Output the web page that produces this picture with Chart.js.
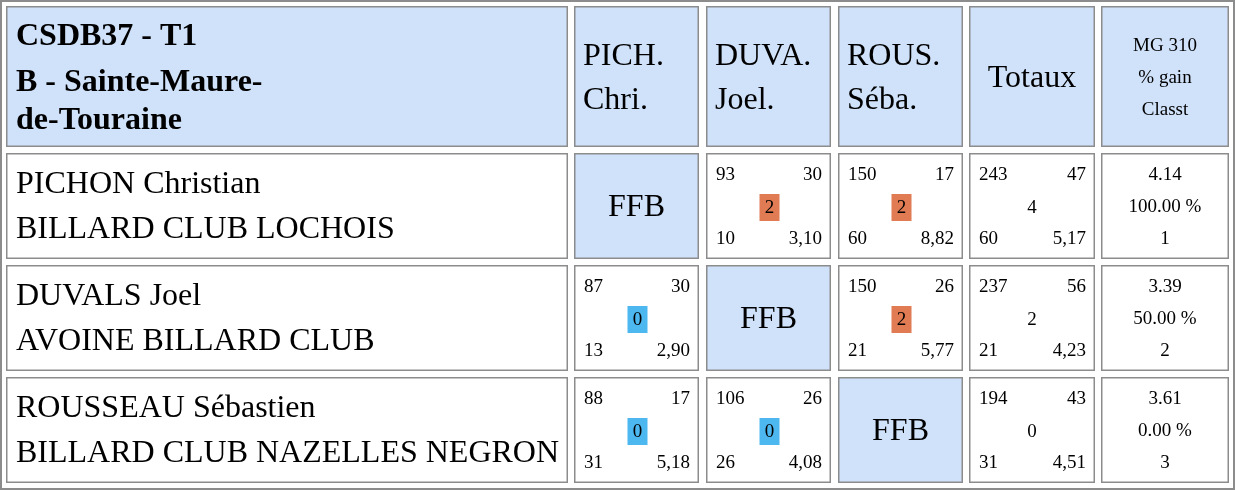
<!DOCTYPE html>
<html><head><meta charset="utf-8">
<script src="https://cdn.jsdelivr.net/npm/chart.js@4"></script>
<style>html,body{margin:0;padding:0;background:#fff}#c{display:block}</style>
</head><body>
<div style="width:1235px;height:490px"><canvas id="c"></canvas></div>
<script>
const titleLines = ["CSDB37 - T1", "B - Sainte-Maure-", "de-Touraine"];
const colHeaders = [["PICH.", "Chri."], ["DUVA.", "Joel."], ["ROUS.", "Séba."]];
const totalHeader = "Totaux";
const lastHeader = ["MG 310", "% gain", "Classt"];
const players = ["PICHON Christian", "DUVALS Joel", "ROUSSEAU Sébastien"];
const clubs = ["BILLARD CLUB LOCHOIS", "AVOINE BILLARD CLUB", "BILLARD CLUB NAZELLES NEGRON"];
// [points, serie, reprises, moyenne, score] ; null = FFB
const matches = [
  [null, ["93","30","10","3,10","2"], ["150","17","60","8,82","2"]],
  [["87","30","13","2,90","0"], null, ["150","26","21","5,77","2"]],
  [["88","17","31","5,18","0"], ["106","26","26","4,08","0"], null]
];
const totals = [["243","47","60","5,17","4"], ["237","56","21","4,23","2"], ["194","43","31","4,51","0"]];
const summary = [["4.14","100.00 %","1"], ["3.39","50.00 %","2"], ["3.61","0.00 %","3"]];

const colsX = [[6,568],[574,699],[706,831],[838,963],[969,1095],[1101,1229]];
const rowsY = [[6,147],[153,259],[265,371],[377,483]];
const BLUE = "#cfe2fa", SERIF = "'Liberation Serif','DejaVu Serif',serif";
const BIG = 32, SMALL = 19;

const tablePlugin = {
  id: "table",
  afterDraw(chart) {
    const ctx = chart.ctx, sx = chart.scales.x, sy = chart.scales.y;
    const X = v => sx.getPixelForValue(v), Y = v => sy.getPixelForValue(v);
    ctx.save();
    ctx.strokeStyle = "#8c8c8c"; ctx.lineWidth = 2;
    ctx.strokeRect(X(1), Y(1), X(1234) - X(1), Y(489) - Y(1));
    function cell(c, r, bg) {
      const [x0, x1] = colsX[c], [y0, y1] = rowsY[r];
      ctx.fillStyle = bg; ctx.fillRect(X(x0), Y(y0), X(x1) - X(x0), Y(y1) - Y(y0));
      ctx.strokeStyle = "#8c8c8c"; ctx.lineWidth = 1.5;
      ctx.strokeRect(X(x0) + .75, Y(y0) + .75, X(x1) - X(x0) - 1.5, Y(y1) - Y(y0) - 1.5);
      return [x0, x1, y0, y1];
    }
    function txt(s, x, y, size, align, bold) {
      ctx.font = (bold ? "bold " : "") + size + "px " + SERIF;
      ctx.fillStyle = "#000"; ctx.textAlign = align; ctx.textBaseline = "middle";
      ctx.fillText(s, X(x), Y(y));
    }
    let [a, b, t] = cell(0, 0, BLUE);
    titleLines.forEach((s, i) => txt(s, a + 10, t + [31, 77, 115][i], BIG, "left", true));
    colHeaders.forEach((h, i) => { const [a] = cell(i + 1, 0, BLUE); txt(h[0], a + 9, t + 51, BIG, "left"); txt(h[1], a + 9, t + 95, BIG, "left"); });
    [a, b] = cell(4, 0, BLUE); txt(totalHeader, (a + b) / 2, t + 73, BIG, "center");
    [a, b] = cell(5, 0, BLUE); lastHeader.forEach((s, i) => txt(s, (a + b) / 2, t + 40 + i * 32, SMALL, "center"));
    for (let r = 0; r < 3; r++) {
      let [a, b, t] = cell(0, r + 1, "#fff");
      txt(players[r], a + 10, t + 32, BIG, "left"); txt(clubs[r], a + 10, t + 77, BIG, "left");
      for (let c = 0; c < 3; c++) {
        const m = matches[r][c];
        const [a, b, t] = cell(c + 1, r + 1, m ? "#fff" : BLUE);
        if (!m) { txt("FFB", (a + b) / 2, t + 55, BIG, "center"); continue; }
        txt(m[0], a + 10, t + 22, SMALL, "left"); txt(m[1], b - 9, t + 22, SMALL, "right");
        txt(m[2], a + 10, t + 86, SMALL, "left"); txt(m[3], b - 9, t + 86, SMALL, "right");
        const cx = (a + b) / 2 + 1;
        ctx.fillStyle = m[4] === "2" ? "#e07b54" : "#4db8f0";
        ctx.fillRect(X(cx - 10), Y(t + 41), X(cx + 10) - X(cx - 10), Y(t + 68) - Y(t + 41));
        txt(m[4], cx, t + 55, SMALL, "center");
      }
      const tt = totals[r];
      [a, b] = cell(4, r + 1, "#fff");
      txt(tt[0], a + 10, t + 22, SMALL, "left"); txt(tt[1], b - 9, t + 22, SMALL, "right");
      txt(tt[2], a + 10, t + 86, SMALL, "left"); txt(tt[3], b - 9, t + 86, SMALL, "right");
      txt(tt[4], (a + b) / 2, t + 55, SMALL, "center");
      [a, b] = cell(5, r + 1, "#fff");
      summary[r].forEach((s, i) => txt(s, (a + b) / 2, t + 22 + i * 32, SMALL, "center"));
    }
    ctx.restore();
  }
};

new Chart(document.getElementById("c"), {
  type: "scatter",
  data: { datasets: [{ data: [], pointRadius: 0 }] },
  options: {
    responsive: true, maintainAspectRatio: false, animation: false,
    layout: { padding: 0 },
    plugins: { legend: { display: false }, tooltip: { enabled: false } },
    scales: {
      x: { type: "linear", min: 0, max: 1235, display: false },
      y: { type: "linear", min: 0, max: 490, reverse: true, display: false }
    }
  },
  plugins: [tablePlugin]
});
</script>
</body></html>
